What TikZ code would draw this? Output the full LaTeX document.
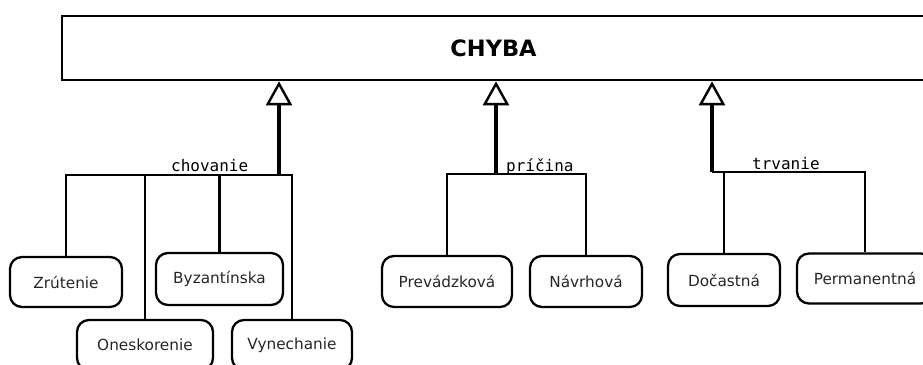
\documentclass[tikz,border=0pt]{standalone}
\usepackage{fontspec}
\setmainfont{DejaVu Sans}
\newfontfamily\labelmono{DejaVu Sans Mono}
\usetikzlibrary{arrows.meta}
\begin{document}
\begin{tikzpicture}[x=1pt,y=-1pt,
  kind/.style={draw, line width=2.3pt, rounded corners=12pt, inner sep=0pt,
    font=\fontsize{15.3}{18}\selectfont, text=black!85},
  link/.style={line width=2.4pt},
  gen/.style={line width=3.4pt,
    -{Triangle[open, length=24pt, width=26pt, line width=2.4pt, fill=white]}},
  tag/.style={font=\labelmono\fontsize{16}{18}\selectfont, inner sep=0pt, anchor=base west}]
\useasboundingbox (0,0) rectangle (923,364);
\clip (0,0) rectangle (923,364);

% superclass
\node[draw, line width=2.6pt, minimum width=863pt, minimum height=64pt, inner sep=0pt,
  font=\bfseries\fontsize{22.5}{26}\selectfont] (chyba) at (493.5,48) {CHYBA};

% subclasses
\node[kind, minimum width=112pt, minimum height=50pt] (zrut) at (66,282) {Zrútenie};
\node[kind, minimum width=136pt, minimum height=50pt] (onesk) at (145,345) {Oneskorenie};
\node[kind, minimum width=127pt, minimum height=52pt] (byz) at (219.5,279) {Byzantínska};
\node[kind, minimum width=120pt, minimum height=50pt] (vyn) at (292,345) {Vynechanie};
\node[kind, minimum width=130pt, minimum height=51pt] (prev) at (447,281.5) {Prevádzková};
\node[kind, minimum width=112pt, minimum height=51pt] (navr) at (586,281.5) {Návrhová};
\node[kind, minimum width=112pt, minimum height=52pt] (doc) at (724,280) {Dočastná};
\node[kind, minimum width=136pt, minimum height=50pt] (perm) at (865,278.5) {Permanentná};

% generalization junctions
\coordinate (jchov) at (279,175);
\coordinate (jpric) at (496,174);
\coordinate (jtrv) at (712,172);

\draw[link] (zrut.north) |- (jchov);
\draw[link] (onesk.north) |- (jchov);
\draw[link] (byz.north) |- (jchov);
\draw[link] (vyn.north) |- (jchov);
\draw[link] (prev.north) |- (jpric);
\draw[link] (navr.north) |- (jpric);
\draw[link] (doc.north) |- (jtrv);
\draw[link] (perm.north) |- (jtrv);

\draw[gen] (jchov) -- (jchov |- chyba.south);
\draw[gen] (jpric) -- (jpric |- chyba.south);
\draw[gen] (jtrv) -- (jtrv |- chyba.south);

% discriminator labels
\node[tag] (lchov) at (171,171.5) {chovanie};
\node[tag] (lpric) at (506,171) {príčina};
\node[tag] (ltrv) at (752,169) {trvanie};
\end{tikzpicture}
\end{document}
